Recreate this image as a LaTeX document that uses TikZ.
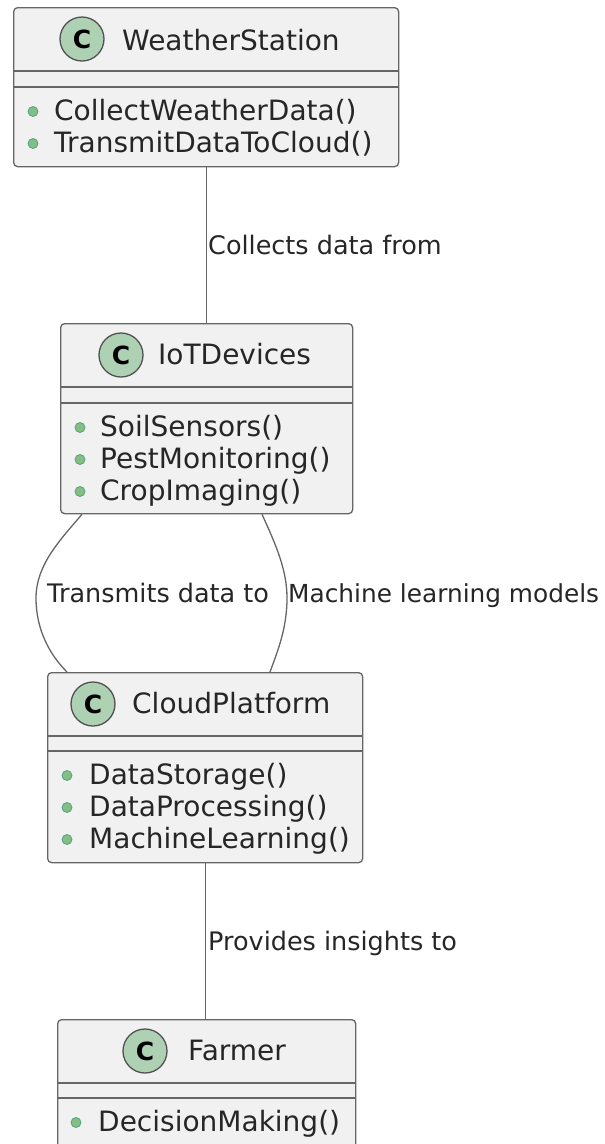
\documentclass[tikz,border=0pt]{standalone}
\usepackage{fontspec}
\setmainfont{DejaVu Sans}
\usetikzlibrary{calc}
\definecolor{boxfill}{HTML}{F1F1F1}
\definecolor{edgec}{HTML}{666666}
\definecolor{cfill}{HTML}{ADD1B2}
\definecolor{bfill}{HTML}{84BE84}
\definecolor{bdraw}{HTML}{038048}
\begin{document}
\begin{tikzpicture}[x=1pt,y=-1pt,
  classbox/.style={draw=edgec, fill=boxfill, line width=1.3pt, rounded corners=4pt, inner sep=0pt, anchor=north west},
  sepline/.style={draw=edgec, line width=1.3pt},
  cbadge/.style={circle, draw=edgec!80!black, line width=1.3pt, fill=cfill, minimum size=44pt, inner sep=0pt, font=\fontsize{25}{25}\selectfont\bfseries},
  ctitle/.style={anchor=base west, inner sep=0pt, text=black!85, font=\fontsize{28}{30}\selectfont},
  member/.style={anchor=base west, inner sep=0pt, text=black!85, font=\fontsize{28}{30}\selectfont},
  mdot/.style={circle, fill=bfill, draw=bdraw!70, line width=0.8pt, minimum size=10pt, inner sep=0pt},
  link/.style={draw=edgec, line width=1.3pt},
  lbl/.style={anchor=base west, inner sep=0pt, text=black!85, font=\fontsize{25.5}{28}\selectfont}]
\fill[white] (0,0) rectangle (605,1144);
\useasboundingbox (0,0) rectangle (605,1144);

% WeatherStation
\node[classbox, minimum width=385pt, minimum height=159pt] (ws) at (13,7) {};
\draw[sepline] ($(ws.north west)+(0,64)$) -- ($(ws.north east)+(0,64)$);
\draw[sepline] ($(ws.north west)+(0,80)$) -- ($(ws.north east)+(0,80)$);
\node[cbadge] (wsC) at (82,39) {C};
\node[ctitle] (wsN) at (122,50) {WeatherStation};
\node[mdot] (wsD1) at (33,111.5) {};
\node[member] (wsM1) at (54,120) {CollectWeatherData()};
\node[mdot] (wsD2) at (33,143.5) {};
\node[member] (wsM2) at (54,152) {TransmitDataToCloud()};

% IoTDevices
\node[classbox, minimum width=292pt, minimum height=190pt] (iot) at (60,323) {};
\draw[sepline] ($(iot.north west)+(0,64)$) -- ($(iot.north east)+(0,64)$);
\draw[sepline] ($(iot.north west)+(0,80)$) -- ($(iot.north east)+(0,80)$);
\node[cbadge] (iotC) at (121,355) {C};
\node[ctitle] (iotN) at (158,364) {IoTDevices};
\node[mdot] (iotD1) at (80,427.5) {};
\node[member] (iotM1) at (100,436) {SoilSensors()};
\node[mdot] (iotD2) at (80,459.5) {};
\node[member] (iotM2) at (100,468) {PestMonitoring()};
\node[mdot] (iotD3) at (80,491.5) {};
\node[member] (iotM3) at (100,500) {CropImaging()};

% CloudPlatform
\node[classbox, minimum width=315pt, minimum height=190pt] (cloud) at (47,672) {};
\draw[sepline] ($(cloud.north west)+(0,64)$) -- ($(cloud.north east)+(0,64)$);
\draw[sepline] ($(cloud.north west)+(0,79)$) -- ($(cloud.north east)+(0,79)$);
\node[cbadge] (cloudC) at (93,704) {C};
\node[ctitle] (cloudN) at (132,713) {CloudPlatform};
\node[mdot] (cloudD1) at (67,775.5) {};
\node[member] (cloudM1) at (89,784) {DataStorage()};
\node[mdot] (cloudD2) at (67,807.5) {};
\node[member] (cloudM2) at (89,816) {DataProcessing()};
\node[mdot] (cloudD3) at (67,839.5) {};
\node[member] (cloudM3) at (89,848) {MachineLearning()};

% Farmer
\node[classbox, minimum width=298pt, minimum height=128pt] (farmer) at (57,1019) {};
\draw[sepline] ($(farmer.north west)+(0,64)$) -- ($(farmer.north east)+(0,64)$);
\draw[sepline] ($(farmer.north west)+(0,79)$) -- ($(farmer.north east)+(0,79)$);
\node[cbadge] (farmerC) at (145,1051) {C};
\node[ctitle] (farmerN) at (188,1060) {Farmer};
\node[mdot] (farmerD1) at (76,1122.5) {};
\node[member] (farmerM1) at (98,1131) {DecisionMaking()};

% connectors
\draw[link] (ws.south) -- (ws.south |- iot.north);
\coordinate (l1) at ($(iot.south west)+(22,0)$);
\coordinate (l2) at ($(cloud.north west)+(20,0)$);
\coordinate (r1) at ($(iot.south west)+(202,0)$);
\coordinate (r2) at ($(cloud.north west)+(223,0)$);
\draw[link] (l1) .. controls (60,540) and (36,565) .. (36,598) .. controls (36,630) and (50,655) .. (l2);
\draw[link] (r1) .. controls (276,545) and (287,570) .. (287,598) .. controls (287,628) and (278,650) .. (r2);
\draw[link] (cloud.south) -- (cloud.south |- farmer.north);

% labels
\node[lbl] (lab1) at (208,254) {Collects data from};
\node[lbl] (lab2) at (47,602) {Transmits data to};
\node[lbl, font=\fontsize{24.8}{28}\selectfont] (lab3) at (288,602) {Machine learning models};
\node[lbl] (lab4) at (208,950) {Provides insights to};
\end{tikzpicture}
\end{document}
